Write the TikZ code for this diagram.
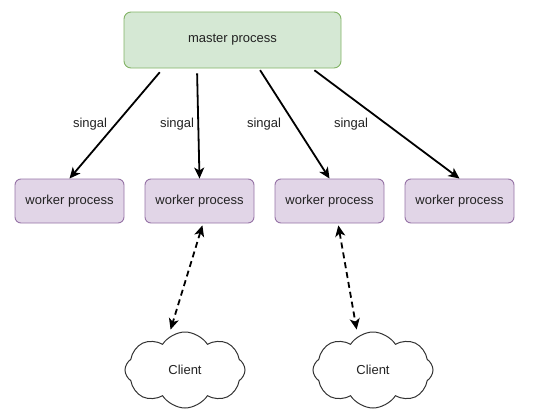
\documentclass[tikz,border=0pt]{standalone}
\usepackage{fontspec}
\setmainfont{Liberation Sans}
\usepackage{tikz}
\usetikzlibrary{arrows.meta}
\usetikzlibrary{shapes.symbols}

\definecolor{masterfill}{HTML}{D5E8D4}
\definecolor{masterline}{HTML}{82B366}
\definecolor{workerfill}{HTML}{E1D5E7}
\definecolor{workerline}{HTML}{9673A6}
\definecolor{txt}{HTML}{222222}

\begin{document}
\begin{tikzpicture}[x=1pt,y=-1pt,
  every node/.style={font=\fontsize{13}{15}\selectfont,text=txt},
  masterbox/.style={draw=masterline,fill=masterfill,rounded corners=7pt,line width=0.9pt,minimum width=217pt,minimum height=56pt},
  workerbox/.style={draw=workerline,fill=workerfill,rounded corners=6pt,line width=0.9pt,minimum width=109pt,minimum height=44pt},
  client/.style={cloud,cloud puffs=8,cloud puff arc=115,aspect=1.6,draw=black!80,line width=1pt,minimum width=120pt,minimum height=76pt},
  signal/.style={line width=1.8pt,-{Stealth[length=11pt,width=10pt,inset=3pt]}},
  talk/.style={line width=1.8pt,dash pattern=on 6pt off 4pt,{Stealth[length=11pt,width=10pt,inset=3pt]}-{Stealth[length=11pt,width=10pt,inset=3pt]}}]
  \useasboundingbox (0,0) rectangle (536,415);

  %top
  \node[masterbox] (master) at (232.5,40) {master process};

  %workers
  \node[workerbox] (w1) at (69.5,201) {worker process};
  \node[workerbox] (w2) at (199.5,201) {worker process};
  \node[workerbox] (w3) at (329.5,201) {worker process};
  \node[workerbox] (w4) at (459.5,201) {worker process};

  \draw[signal,shorten <=5pt] ([xshift=-69.5pt]master.south) -- (w1.north);
  \draw[signal,shorten <=5pt] ([xshift=-35.5pt]master.south) -- (w2.north);
  \draw[signal,shorten <=2pt] ([xshift=26.5pt]master.south) -- (w3.north);
  \draw[signal,shorten <=3pt] ([xshift=79.5pt]master.south) -- (w4.north);
  \node (l1) at (90,124) {singal};
  \node (l2) at (177,124) {singal};
  \node (l3) at (264,124) {singal};
  \node (l4) at (351,124) {singal};

  %bottom
  \node[client] (c1) at (185,370) {Client};
  \node[client] (c2) at (373,370) {Client};
  \draw[talk,shorten <=2pt,shorten >=2pt] ([xshift=3.5pt]w2.south) -- ([xshift=-15pt]c1.north);
  \draw[talk,shorten <=2pt,shorten >=2pt] ([xshift=8.5pt]w3.south) -- ([xshift=-16pt]c2.north);
\end{tikzpicture}
\end{document}
